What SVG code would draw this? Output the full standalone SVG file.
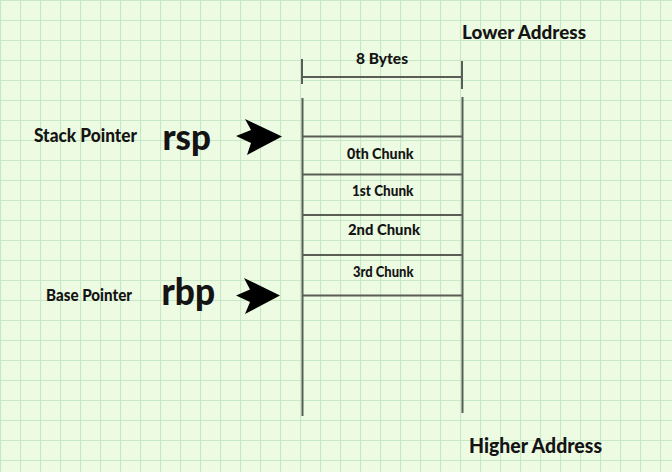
<svg xmlns="http://www.w3.org/2000/svg" width="672" height="472" viewBox="0 0 672 472">
<defs>
<pattern id="grid" width="20" height="20" patternUnits="userSpaceOnUse" x="0" y="0">
<rect width="20" height="20" fill="#eefbe3"/>
<path d="M0.5 0 V20 M0 0.5 H20" stroke="#c6e8c6" stroke-width="1.2" fill="none"/>
</pattern>
<style>
.ln{stroke:#595d55;stroke-width:2;fill:none;stroke-linecap:butt}
.t{font-family:Lato,"Open Sans","Liberation Sans",sans-serif;font-weight:900;fill:#141414}
.arr{fill:#000}
</style>
</defs>
<rect width="672" height="472" fill="url(#grid)"/>

<g id="lower-address"><text class="t" x="462" y="39" font-size="18" textLength="124" lengthAdjust="spacingAndGlyphs">Lower Address</text></g>
<g id="higher-address"><text class="t" x="469" y="453" font-size="21" textLength="133" lengthAdjust="spacingAndGlyphs">Higher Address</text></g>

<g id="width-bracket">
<path class="ln" d="M302 59 V84 M462 61 V89 M303 77 H462"/>
<text class="t" x="356" y="63.5" font-size="15" textLength="52" lengthAdjust="spacingAndGlyphs">8 Bytes</text>
</g>

<g id="stack">
<path class="ln" d="M302.5 98 V416 M462.5 97 V413"/>
<path class="ln" d="M302 136.5 H462 M302 174.5 H462 M302 215 H462 M302 255 H462 M302 295.5 H462"/>
</g>
<g id="chunk0"><text class="t" x="347" y="158.5" font-size="14.5" textLength="66.5" lengthAdjust="spacingAndGlyphs">0th Chunk</text></g>
<g id="chunk1"><text class="t" x="352" y="196" font-size="14.5" textLength="61.5" lengthAdjust="spacingAndGlyphs">1st Chunk</text></g>
<g id="chunk2"><text class="t" x="348" y="235" font-size="14.5" textLength="72" lengthAdjust="spacingAndGlyphs">2nd Chunk</text></g>
<g id="chunk3"><text class="t" x="353" y="276.5" font-size="14.5" textLength="60.5" lengthAdjust="spacingAndGlyphs">3rd Chunk</text></g>

<g id="stack-pointer">
<text class="t" x="34" y="141.5" font-size="18" textLength="103" lengthAdjust="spacingAndGlyphs">Stack Pointer</text>
<text class="t" x="162.5" y="149.5" font-size="36" textLength="48.5" lengthAdjust="spacingAndGlyphs">rsp</text>
</g>
<g id="base-pointer">
<text class="t" x="46" y="300.5" font-size="16" textLength="86" lengthAdjust="spacingAndGlyphs">Base Pointer</text>
<text class="t" x="161.5" y="305" font-size="37" textLength="53.5" lengthAdjust="spacingAndGlyphs">rbp</text>
</g>

<g id="connectors">
<path class="arr" d="M236 136 L251 130 L245 119 L282 136.5 L247 155 L251 143 Z"/>
<path class="arr" d="M236 295.5 L250 289.5 L244 278 L280 295.5 L245 314 L250 302 Z"/>
</g>
</svg>
